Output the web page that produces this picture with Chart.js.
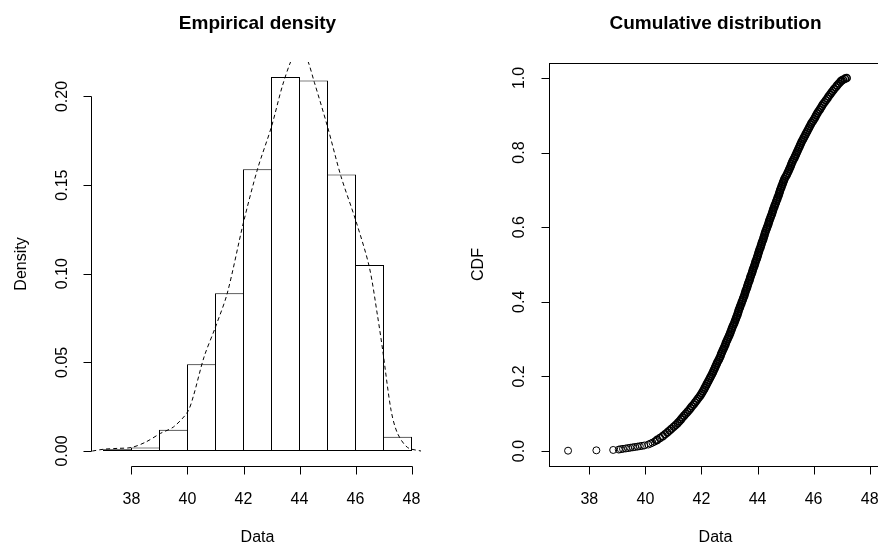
<!DOCTYPE html>
<html>
<head>
<meta charset="utf-8">
<title>Empirical density and cumulative distribution</title>
<script src="https://cdn.jsdelivr.net/npm/chart.js@4/dist/chart.umd.min.js"></script>
<style>
  html, body { margin: 0; padding: 0; background: #fff; overflow: hidden; }
  #wrap { position: relative; width: 878px; height: 552px; overflow: hidden; }
  canvas { position: absolute; top: 0; }
  #left { left: 0; }
  #right { left: 439px; }
</style>
</head>
<body>
<div id="wrap">
  <canvas id="left" width="439" height="552"></canvas>
  <canvas id="right" width="450" height="552"></canvas>
</div>
<script>
// histogram: unit-wide bins starting at binStarts
const binStarts = [37, 38, 39, 40, 41, 42, 43, 44, 45, 46, 47];
const binDensity = [0.001, 0.002, 0.012, 0.049, 0.089, 0.159, 0.211, 0.209, 0.156, 0.105, 0.008];

// kernel density estimate (dashed)
const kdeX = [36.6, 37.0, 37.5, 38.0, 38.5, 39.04, 39.5, 40.0, 40.21, 40.59, 41.0, 41.42, 42.0, 42.5,
              43.0, 43.39, 43.75, 44.0, 44.25, 44.53, 45.0, 45.48, 46.01, 46.49, 46.79, 46.97,
              47.27, 47.5, 47.86, 48.34];
const kdeY = [0.000, 0.001, 0.0015, 0.002, 0.005, 0.010, 0.0136, 0.022, 0.031, 0.053, 0.070, 0.089, 0.129, 0.159,
              0.183, 0.206, 0.222, 0.227, 0.222, 0.208, 0.183, 0.155, 0.130, 0.104, 0.076, 0.057,
              0.023, 0.010, 0.002, 0.000];

// empirical CDF: sorted data values (cdfX) and cumulative probabilities (cdfY), row by row
const cdfX = [
  37.24, 38.25, 38.85, 39.05, 39.12, 39.20, 39.30, 39.38, 39.46, 39.55,
  39.63, 39.72, 39.80, 39.88, 39.96, 40.10, 40.18, 40.25, 40.32, 40.37,
  40.42, 40.52, 40.62, 40.70, 40.78, 40.86, 40.93, 41.01, 41.08, 41.15,
  41.21, 41.27, 41.32, 41.38, 41.44, 41.50, 41.56, 41.61, 41.66, 41.72,
  41.77, 41.82, 41.87, 41.92, 41.97, 42.01, 42.05, 42.09, 42.12, 42.16,
  42.19, 42.23, 42.26, 42.30, 42.33, 42.37, 42.40, 42.43, 42.46, 42.49,
  42.52, 42.55, 42.58, 42.62, 42.65, 42.68, 42.70, 42.73, 42.76, 42.79,
  42.82, 42.85, 42.87, 42.90, 42.93, 42.96, 42.99, 43.02, 43.04, 43.07,
  43.09, 43.12, 43.15, 43.18, 43.20, 43.23, 43.25, 43.28, 43.30, 43.32,
  43.34, 43.37, 43.39, 43.42, 43.44, 43.47, 43.49, 43.52, 43.54, 43.56,
  43.58, 43.61, 43.63, 43.65, 43.67, 43.70, 43.72, 43.74, 43.76, 43.79,
  43.81, 43.83, 43.85, 43.88, 43.90, 43.92, 43.94, 43.97, 43.99, 44.01,
  44.03, 44.05, 44.07, 44.10, 44.12, 44.14, 44.16, 44.19, 44.21, 44.23,
  44.25, 44.27, 44.29, 44.32, 44.34, 44.37, 44.39, 44.41, 44.43, 44.46,
  44.48, 44.51, 44.53, 44.55, 44.57, 44.60, 44.62, 44.65, 44.67, 44.70,
  44.72, 44.75, 44.77, 44.79, 44.81, 44.84, 44.86, 44.89, 44.91, 44.94,
  44.96, 45.00, 45.04, 45.07, 45.10, 45.13, 45.16, 45.19, 45.21, 45.24,
  45.27, 45.31, 45.34, 45.37, 45.40, 45.43, 45.46, 45.49, 45.52, 45.55,
  45.58, 45.62, 45.65, 45.69, 45.72, 45.76, 45.79, 45.83, 45.86, 45.90,
  45.93, 45.98, 46.02, 46.06, 46.09, 46.13, 46.17, 46.22, 46.26, 46.30,
  46.34, 46.39, 46.44, 46.49, 46.53, 46.58, 46.63, 46.68, 46.73, 46.79,
  46.84, 46.90, 46.96, 47.00, 47.05, 47.12, 47.18
];
const cdfY = [
  0.001, 0.002, 0.003, 0.004, 0.005, 0.006, 0.007, 0.008, 0.009, 0.010,
  0.011, 0.012, 0.013, 0.014, 0.015, 0.0175, 0.020, 0.0225, 0.025, 0.0275,
  0.030, 0.035, 0.040, 0.045, 0.050, 0.055, 0.060, 0.065, 0.070, 0.075,
  0.080, 0.085, 0.090, 0.095, 0.100, 0.105, 0.110, 0.115, 0.120, 0.125,
  0.130, 0.135, 0.140, 0.145, 0.150, 0.155, 0.160, 0.165, 0.170, 0.175,
  0.180, 0.185, 0.190, 0.195, 0.200, 0.205, 0.210, 0.215, 0.220, 0.225,
  0.230, 0.235, 0.240, 0.245, 0.250, 0.255, 0.260, 0.265, 0.270, 0.275,
  0.280, 0.285, 0.290, 0.295, 0.300, 0.305, 0.310, 0.315, 0.320, 0.325,
  0.330, 0.335, 0.340, 0.345, 0.350, 0.355, 0.360, 0.365, 0.370, 0.375,
  0.380, 0.385, 0.390, 0.395, 0.400, 0.405, 0.410, 0.415, 0.420, 0.425,
  0.430, 0.435, 0.440, 0.445, 0.450, 0.455, 0.460, 0.465, 0.470, 0.475,
  0.480, 0.485, 0.490, 0.495, 0.500, 0.505, 0.510, 0.515, 0.520, 0.525,
  0.530, 0.535, 0.540, 0.545, 0.550, 0.555, 0.560, 0.565, 0.570, 0.575,
  0.580, 0.585, 0.590, 0.595, 0.600, 0.605, 0.610, 0.615, 0.620, 0.625,
  0.630, 0.635, 0.640, 0.645, 0.650, 0.655, 0.660, 0.665, 0.670, 0.675,
  0.680, 0.685, 0.690, 0.695, 0.700, 0.705, 0.710, 0.715, 0.720, 0.725,
  0.730, 0.735, 0.740, 0.745, 0.750, 0.755, 0.760, 0.765, 0.770, 0.775,
  0.780, 0.785, 0.790, 0.795, 0.800, 0.805, 0.810, 0.815, 0.820, 0.825,
  0.830, 0.835, 0.840, 0.845, 0.850, 0.855, 0.860, 0.865, 0.870, 0.875,
  0.880, 0.885, 0.890, 0.895, 0.900, 0.905, 0.910, 0.915, 0.920, 0.925,
  0.930, 0.935, 0.940, 0.945, 0.950, 0.955, 0.960, 0.965, 0.970, 0.975,
  0.980, 0.985, 0.990, 0.993, 0.995, 0.998, 1.000
];

// axis ticks
const dataTicks = [38, 40, 42, 44, 46, 48];
const densityTicks = [0, 0.05, 0.10, 0.15, 0.20];
const cdfTicks = [0, 0.2, 0.4, 0.6, 0.8, 1.0];

const FONT = '"Liberation Sans", Arial, sans-serif';
const TICK = 8;

// base-graphics style axes, titles and optional box
const rAxes = {
  id: 'rAxes',
  afterDraw(chart, args, o) {
    const ctx = chart.ctx, a = chart.chartArea;
    const xs = chart.scales.x, ys = chart.scales.y;
    const px = v => Math.round(xs.getPixelForValue(v)) + 0.5;
    const py = v => Math.round(ys.getPixelForValue(v)) + 0.5;
    const left = Math.round(a.left) + 0.5, bottom = Math.round(a.bottom) + 0.5;

    ctx.save();
    ctx.strokeStyle = '#000';
    ctx.fillStyle = '#000';
    ctx.lineWidth = 1;

    if (o.box) {
      ctx.strokeRect(left, Math.round(a.top) + 0.5, Math.round(a.right) - Math.round(a.left), Math.round(a.bottom) - Math.round(a.top));
    }

    // x axis
    ctx.beginPath();
    ctx.moveTo(px(o.xTicks[0]), bottom);
    ctx.lineTo(px(o.xTicks[o.xTicks.length - 1]), bottom);
    o.xTicks.forEach(v => { ctx.moveTo(px(v), bottom); ctx.lineTo(px(v), bottom + TICK); });
    // y axis
    ctx.moveTo(left, py(o.yTicks[0]));
    ctx.lineTo(left, py(o.yTicks[o.yTicks.length - 1]));
    o.yTicks.forEach(v => { ctx.moveTo(left, py(v)); ctx.lineTo(left - TICK, py(v)); });
    ctx.stroke();

    ctx.font = '16px ' + FONT;
    ctx.textAlign = 'center';
    ctx.textBaseline = 'middle';
    o.xTicks.forEach(v => ctx.fillText(String(v), xs.getPixelForValue(v), a.bottom + 34));
    o.yTicks.forEach(v => {
      ctx.save();
      ctx.translate(a.left - 29, ys.getPixelForValue(v));
      ctx.rotate(-Math.PI / 2);
      ctx.fillText(v.toFixed(o.yDigits), 0, 0);
      ctx.restore();
    });

    // axis titles
    ctx.fillText(o.xTitle, (a.left + a.right) / 2, a.bottom + 72);
    ctx.save();
    ctx.translate(a.left - 70, (a.top + a.bottom) / 2);
    ctx.rotate(-Math.PI / 2);
    ctx.fillText(o.yTitle, 0, 0);
    ctx.restore();

    // main title
    ctx.font = 'bold 19px ' + FONT;
    ctx.fillText(o.title, (a.left + a.right) / 2, 24);
    ctx.restore();
  }
};

const common = {
  responsive: false,
  animation: false,
  devicePixelRatio: 1,
  plugins: { legend: { display: false }, tooltip: { enabled: false } }
};

// 28 px per unit; bin edges land on pixel centres so neighbouring bars share one border column
new Chart(document.getElementById('left'), {
  type: 'bar',
  data: {
    datasets: [{
      type: 'line',
      order: 0,
      data: kdeX.map((x, i) => ({ x: x, y: kdeY[i] })),
      borderColor: '#000',
      borderWidth: 1,
      borderDash: [4, 3],
      pointRadius: 0,
      tension: 0.3,
      fill: false
    }, {
      type: 'bar',
      order: 1,
      data: binStarts.map((s, i) => ({ x: s + 0.5, y: binDensity[i] })),
      backgroundColor: '#fff',
      borderColor: '#000',
      borderWidth: 1,
      borderSkipped: false,
      inflateAmount: 0,
      barPercentage: 29 / 28,
      categoryPercentage: 1,
      grouped: false
    }]
  },
  options: {
    ...common,
    layout: { padding: { left: 91.18, right: 15.18, top: 62, bottom: 86 } },
    scales: {
      x: { type: 'linear', min: 36.56, max: 48.44, offset: false, display: false },
      y: { type: 'linear', min: -0.00844, max: 0.21944, display: false }
    },
    plugins: {
      ...common.plugins,
      rAxes: {
        title: 'Empirical density', xTitle: 'Data', yTitle: 'Density',
        xTicks: dataTicks, yTicks: densityTicks, yDigits: 2, box: false
      }
    }
  },
  plugins: [rAxes]
});

new Chart(document.getElementById('right'), {
  type: 'scatter',
  data: {
    datasets: [{
      data: cdfX.map((x, i) => ({ x: x, y: cdfY[i] })),
      pointStyle: 'circle',
      pointRadius: 3.5,
      // thin rings in the sparse lower tail, heavier where the points pile up
      pointBorderWidth: c => (c.parsed && c.parsed.y < 0.03 ? 1 : 1.6),
      pointBorderColor: '#000',
      pointBackgroundColor: 'rgba(0,0,0,0)',
      showLine: false
    }]
  },
  options: {
    ...common,
    layout: { padding: { left: 110, right: 7, top: 63, bottom: 86 } },
    scales: {
      x: { type: 'linear', min: 36.56, max: 48.44, display: false },
      y: { type: 'linear', min: -0.04, max: 1.04, display: false }
    },
    plugins: {
      ...common.plugins,
      rAxes: {
        title: 'Cumulative distribution', xTitle: 'Data', yTitle: 'CDF',
        xTicks: dataTicks, yTicks: cdfTicks, yDigits: 1, box: true
      }
    }
  },
  plugins: [rAxes]
});
</script>
</body>
</html>
